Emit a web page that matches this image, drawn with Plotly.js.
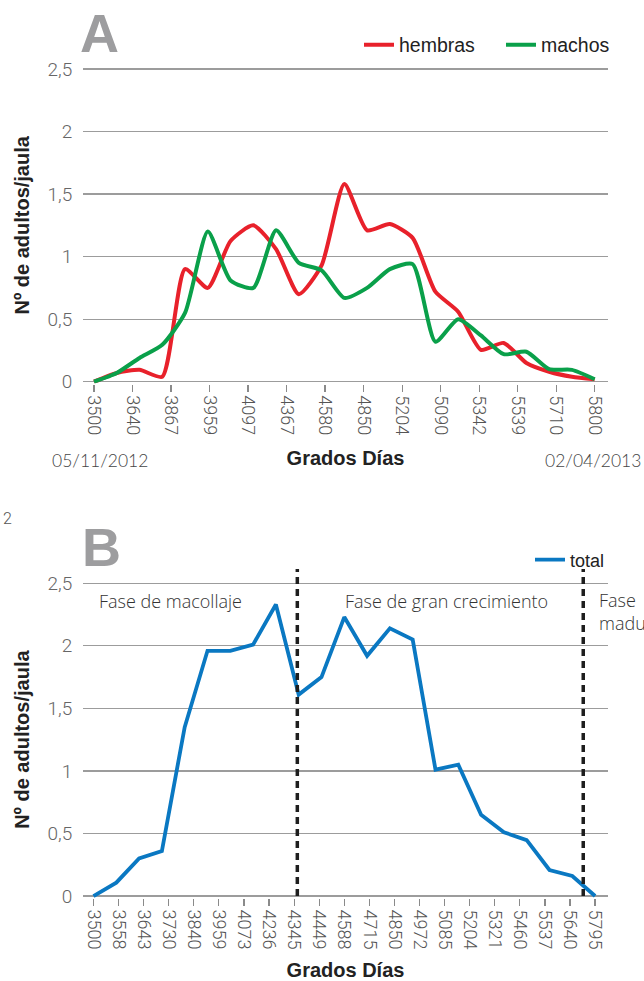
<!DOCTYPE html>
<html>
<head>
<meta charset="utf-8">
<script src="https://cdn.plot.ly/plotly-3.0.1.min.js"></script>
<style>
  html, body { margin: 0; padding: 0; background: #ffffff; }
  #chart { width: 644px; height: 981px; }
</style>
</head>
<body>
<div id="chart"></div>
<script>
// ---------- Panel A data ----------
const gradosDiasA = ['3500','3640','3867','3959','4097','4367','4580','4850','5204','5090','5342','5539','5710','5800'];
const hembras = [0, 0.07, 0.095, 0.04, 0.9, 0.75, 1.125, 1.25, 1.06, 0.70, 0.93, 1.58, 1.21, 1.26, 1.15, 0.72, 0.56, 0.255, 0.31, 0.15, 0.08, 0.04, 0.02];
const machos  = [0, 0.07, 0.19, 0.295, 0.55, 1.2, 0.81, 0.75, 1.21, 0.95, 0.89, 0.67, 0.75, 0.9, 0.94, 0.32, 0.5, 0.37, 0.22, 0.24, 0.1, 0.095, 0.02];
const fechaInicio = '05/11/2012';
const fechaFin = '02/04/2013';

// ---------- Panel B data ----------
const gradosDiasB = ['3500','3558','3643','3730','3840','3959','4073','4236','4345','4449','4588','4715','4850','4972','5085','5204','5321','5460','5537','5640','5795'];
const total = [0, 0.107, 0.30, 0.36, 1.35, 1.96, 1.96, 2.01, 2.33, 1.61, 1.75, 2.23, 1.92, 2.14, 2.05, 1.01, 1.05, 0.65, 0.51, 0.447, 0.208, 0.16, 0];
// phase boundaries, in sample-index units of the total series
const phaseBounds = [8.94, 21.48];
const phaseNames = ['Fase de macollaje', 'Fase de gran crecimiento', 'Fase<br>maduración'];

const yTicks = [0, 0.5, 1, 1.5, 2, 2.5];

// ---------- helpers (layout only) ----------
const W = 644, H = 981, ML = 83, MR = 36;
const PX = px => (px - ML) / (W - ML - MR);
const PY = py => 1 - py / H;

const idx = arr => arr.map((_, i) => i);
const tickPos = (labels, n) => labels.map((_, k) => k * (n - 1) / (labels.length - 1));

const LIGHT = 'Roboto, sans-serif';
const BOLD = '"Liberation Sans", Arial, sans-serif';
const REG = '"Liberation Sans", Arial, sans-serif';

const traces = [
  { x: idx(hembras), y: hembras, name: 'hembras', type: 'scatter', mode: 'lines',
    line: { color: '#e8212b', width: 4, shape: 'spline', smoothing: 0.6 }, xaxis: 'x', yaxis: 'y', legend: 'legend' },
  { x: idx(machos), y: machos, name: 'machos', type: 'scatter', mode: 'lines',
    line: { color: '#0aa04a', width: 4, shape: 'spline', smoothing: 0.6 }, xaxis: 'x', yaxis: 'y', legend: 'legend3' },
  { x: idx(total), y: total, name: 'total', type: 'scatter', mode: 'lines',
    line: { color: '#0a78c2', width: 3.8 }, xaxis: 'x2', yaxis: 'y2', legend: 'legend2' }
];

const xCommon = {
  tickmode: 'array', tickangle: 90, ticks: 'outside', ticklen: 7, tickwidth: 1.2, tickcolor: '#8a8a8a',
  showgrid: false, zeroline: false, showline: false, automargin: false,
  tickfont: { family: LIGHT, weight: 300, size: 18, color: '#555555' }
};
const yCommon = {
  range: [-0.015, 2.515], tickmode: 'array', tickvals: yTicks, ticks: 'outside', ticklen: 6, tickcolor: 'rgba(0,0,0,0)',
  showgrid: true, gridcolor: '#9c9c9c', gridwidth: 1.3, automargin: false,
  zeroline: true, zerolinecolor: '#9c9c9c', zerolinewidth: 1.3, showline: false,
  tickfont: { family: LIGHT, weight: 300, size: 19, color: '#666666' },
  title: { text: 'Nº de adultos/jaula', font: { family: BOLD, weight: 700, size: 20, color: '#222222' }, standoff: 12 }
};

const legendBase = (x, y, size) => ({
  orientation: 'h', x: PX(x), xanchor: 'left', y: PY(y), yanchor: 'middle',
  bgcolor: 'rgba(0,0,0,0)', font: { family: REG, size: size, color: '#222222' }, itemwidth: 30
});

const layout = {
  width: W, height: H,
  margin: { l: ML, r: MR, t: 0, b: 0, autoexpand: false },
  paper_bgcolor: '#ffffff', plot_bgcolor: '#ffffff',
  separators: ', ',
  xaxis: Object.assign({}, xCommon, {
    domain: [0, 1], anchor: 'y', range: [-0.483, 22.584],
    tickvals: tickPos(gradosDiasA, hembras.length), ticktext: gradosDiasA,
    title: { text: 'Grados Días', font: { family: BOLD, weight: 700, size: 20, color: '#222222' }, standoff: 16 }
  }),
  yaxis: Object.assign({}, yCommon, { domain: [PY(383.6), PY(67.1)], anchor: 'x' }),
  xaxis2: Object.assign({}, xCommon, {
    domain: [0, 1], anchor: 'y2', range: [-0.46, 22.566],
    tickvals: tickPos(gradosDiasB, total.length), ticktext: gradosDiasB,
    title: { text: 'Grados Días', font: { family: BOLD, weight: 700, size: 20, color: '#222222' }, standoff: 16 }
  }),
  yaxis2: Object.assign({}, yCommon, { domain: [PY(897.9), PY(581.4)], anchor: 'x2' }),
  showlegend: true,
  legend: legendBase(359, 45, 19.5),
  legend3: legendBase(501, 45, 19.5),
  legend2: legendBase(530, 560, 18),
  shapes: phaseBounds.map(b => ({
    type: 'line', xref: 'x2', yref: 'paper', x0: b, x1: b, y0: PY(896), y1: PY(569),
    line: { color: '#1e1e1e', width: 3.5, dash: '7px,5px' }, layer: 'above'
  })),
  annotations: [
    { text: 'A', xref: 'paper', yref: 'paper', x: PX(78), y: PY(33), xanchor: 'left', yanchor: 'middle', showarrow: false,
      font: { family: BOLD, weight: 700, size: 54, color: '#9d9d9f' } },
    { text: 'B', xref: 'paper', yref: 'paper', x: PX(80), y: PY(547), xanchor: 'left', yanchor: 'middle', showarrow: false,
      font: { family: BOLD, weight: 700, size: 54, color: '#9d9d9f' } },
    { text: '2', xref: 'paper', yref: 'paper', x: PX(1), y: PY(518), xanchor: 'left', yanchor: 'middle', showarrow: false,
      font: { family: LIGHT, weight: 300, size: 16, color: '#555555' } },
    { text: fechaInicio, xref: 'paper', yref: 'paper', x: PX(50), y: PY(461), xanchor: 'left', yanchor: 'middle', showarrow: false,
      font: { family: 'Lato, sans-serif', weight: 300, size: 17.5, color: '#444444' } },
    { text: fechaFin, xref: 'paper', yref: 'paper', x: PX(643), y: PY(461), xanchor: 'right', yanchor: 'middle', showarrow: false,
      font: { family: 'Lato, sans-serif', weight: 300, size: 17.5, color: '#444444' } },
    { text: phaseNames[0], xref: 'paper', yref: 'paper', x: PX(97), y: PY(601), xanchor: 'left', yanchor: 'middle', showarrow: false,
      font: { family: '"Open Sans", sans-serif', weight: 300, size: 18, color: '#333333' } },
    { text: phaseNames[1], xref: 'paper', yref: 'paper', x: PX(343), y: PY(601), xanchor: 'left', yanchor: 'middle', showarrow: false,
      font: { family: '"Open Sans", sans-serif', weight: 300, size: 18, color: '#333333' } },
    { text: phaseNames[2], xref: 'paper', yref: 'paper', x: PX(597), y: PY(611), xanchor: 'left', yanchor: 'middle', showarrow: false, align: 'left',
      font: { family: '"Open Sans", sans-serif', weight: 300, size: 18, color: '#333333' } }
  ]
};

Plotly.newPlot('chart', traces, layout, { displayModeBar: false, staticPlot: true });
</script>
</body>
</html>
